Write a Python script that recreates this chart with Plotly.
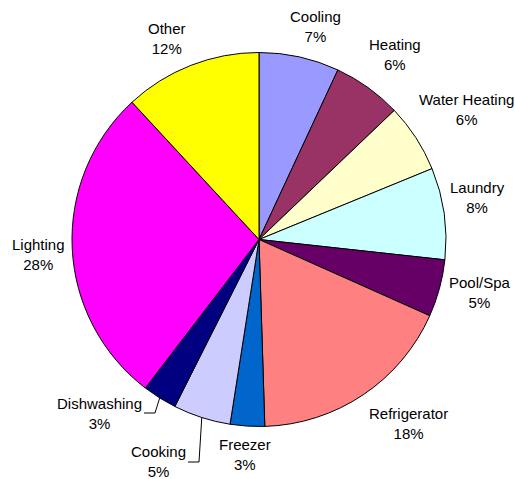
import math
import plotly.graph_objects as go

# Household electricity end uses, share of total (%)
categories = ["Cooling", "Heating", "Water Heating", "Laundry", "Pool/Spa",
              "Refrigerator", "Freezer", "Cooking", "Dishwashing", "Lighting", "Other"]
shares = [7, 6, 6, 8, 5, 18, 3, 5, 3, 28, 12]
colors = ["#9999FF", "#993366", "#FFFFCC", "#CCFFFF", "#660066",
          "#FF8080", "#0066CC", "#CCCCFF", "#000080", "#FF00FF", "#FFFF00"]

W, H = 515, 479
CX, CY, R = 259, 239.5, 187  # pie centre and radius in pixels

# label text centres (pixels from top-left)
label_pos = {
    "Cooling": (315, 27), "Heating": (395, 55), "Water Heating": (466, 110),
    "Laundry": (477, 197), "Pool/Spa": (480, 292), "Refrigerator": (408, 423),
    "Freezer": (245, 454), "Cooking": (158, 461), "Dishwashing": (99, 413),
    "Lighting": (38, 254), "Other": (167, 38),
}
# labels connected to their slice by a leader line: elbow point (pixels)
leaders = {"Dishwashing": (144, 155, 413), "Cooking": (188, 199, 462)}

def px(x):
    return x / W

def py(y):
    return 1 - y / H

fig = go.Figure(go.Pie(
    labels=categories, values=shares, sort=False, direction="clockwise",
    rotation=0, textinfo="none", hoverinfo="label+percent",
    marker=dict(colors=colors, line=dict(color="black", width=1)),
    domain=dict(x=[px(CX - R), px(CX + R)], y=[py(CY + R), py(CY - R)]),
    showlegend=False,
))

font = dict(family="Liberation Sans, Arial, sans-serif", size=15, color="black")
annotations = []
shapes = []
total = sum(shares)
cum = 0
for name, v in zip(categories, shares):
    mid = (cum + v / 2) / total * 2 * math.pi
    cum += v
    x, y = label_pos[name]
    annotations.append(dict(
        x=px(x), y=py(y), xref="paper", yref="paper", showarrow=False,
        text=f"{name}<br>{v}%", font=font, xanchor="center", yanchor="middle",
    ))
    if name in leaders:
        x0, x1, ly = leaders[name]
        ex = CX + R * math.sin(mid)
        ey = CY - R * math.cos(mid)
        shapes.append(dict(
            type="path", xref="paper", yref="paper",
            path=f"M {px(x0)} {py(ly)} L {px(x1)} {py(ly)} L {px(ex)} {py(ey)}",
            line=dict(color="black", width=1),
        ))

fig.update_layout(
    width=W, height=H, margin=dict(l=0, r=0, t=0, b=0),
    paper_bgcolor="white", plot_bgcolor="white",
    annotations=annotations, shapes=shapes,
)

fig.write_html("out.html")
